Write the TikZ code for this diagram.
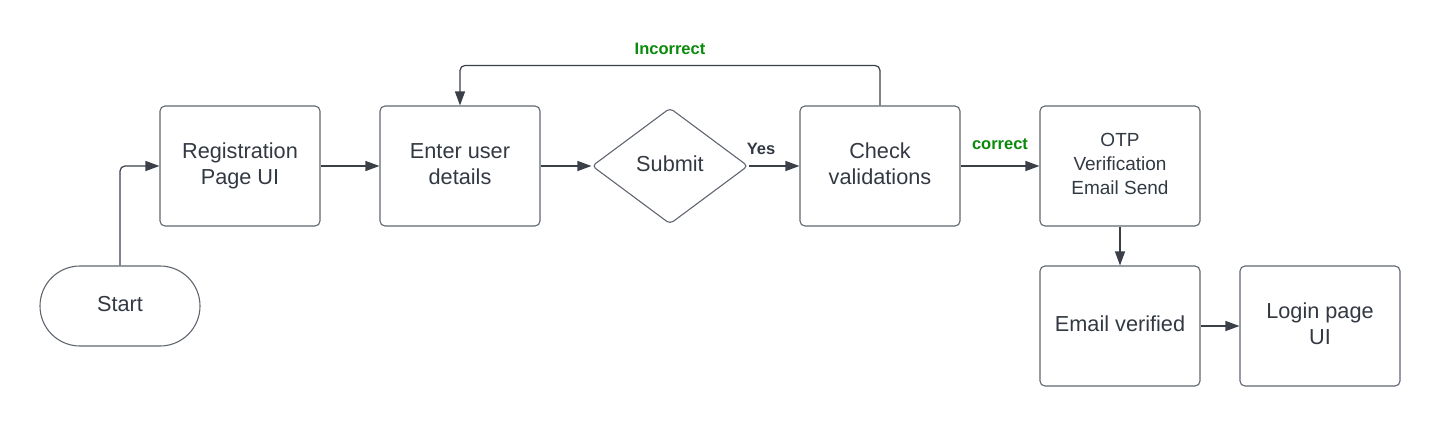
\documentclass[tikz,border=0pt]{standalone}
\usepackage{fontspec}
\setmainfont{Liberation Sans}
\usetikzlibrary{shapes.geometric,arrows.meta}
\definecolor{txt}{HTML}{333942}
\definecolor{bord}{HTML}{5F6670}
\definecolor{arr}{HTML}{3A3F48}
\definecolor{grn}{HTML}{0A8A0A}
\newcommand{\boxtext}[1]{\raisebox{3pt}{\begin{tabular}{@{}c@{}}#1\end{tabular}}}
\begin{document}
\begin{tikzpicture}[x=1pt,y=-1pt,
  box/.style={draw=bord,line width=1.1pt,rounded corners=5pt,minimum width=160pt,minimum height=120pt,inner sep=0pt,text=txt,font=\fontsize{21.7}{26}\selectfont},
  term/.style={draw=bord,line width=1.1pt,rounded corners=40pt,minimum width=160pt,minimum height=80pt,inner sep=0pt,text=txt,font=\fontsize{21.7}{26}\selectfont},
  dec/.style={draw=bord,line width=1.1pt,diamond,rounded corners=4pt,minimum width=156pt,minimum height=116pt,inner sep=0pt,text=txt,font=\fontsize{21.7}{26}\selectfont},
  conn/.style={draw=arr,line width=1.2pt,-{Triangle[length=14pt,width=10pt]}},
  glab/.style={text=grn,font=\fontsize{16.5}{20}\selectfont\bfseries},
  blab/.style={text=txt,font=\fontsize{16.5}{20}\selectfont\bfseries}]
\useasboundingbox (0,0) rectangle (1440,426);
\node[term] (start) at (120,306) {\boxtext{Start}};
\node[box] (reg) at (240,166) {\boxtext{Registration\\Page UI}};
\node[box] (enter) at (460,166) {\boxtext{Enter user\\details}};
\node[dec] (submit) at (670,166) {\boxtext{Submit}};
\node[box] (check) at (880,166) {\boxtext{Check\\validations}};
\node[box,font=\fontsize{19}{24}\selectfont] (otp) at (1120,166) {\boxtext{OTP\\Verification\\Email Send}};
\node[box] (ver) at (1120,326) {\boxtext{Email verified}};
\node[box] (login) at (1320,326) {\boxtext{Login page\\UI}};
\node[glab] (lincorrect) at (670,48.5) {Incorrect};
\node[blab] (lyes) at (761,149) {Yes};
\node[glab] (lcorrect) at (1000,144) {correct};
\draw[conn,rounded corners=5pt] (start.north) |- (reg.west);
\draw[conn] (reg.east) -- (enter.west);
\draw[conn] (enter.east) -- (submit.west);
\draw[conn] (submit.east) -- (check.west);
\draw[conn,rounded corners=5pt] (check.north) -- ++(0,-40) -| (enter.north);
\draw[conn] (check.east) -- (otp.west);
\draw[conn] (otp.south) -- (ver.north);
\draw[conn] (ver.east) -- (login.west);
\end{tikzpicture}
\end{document}
